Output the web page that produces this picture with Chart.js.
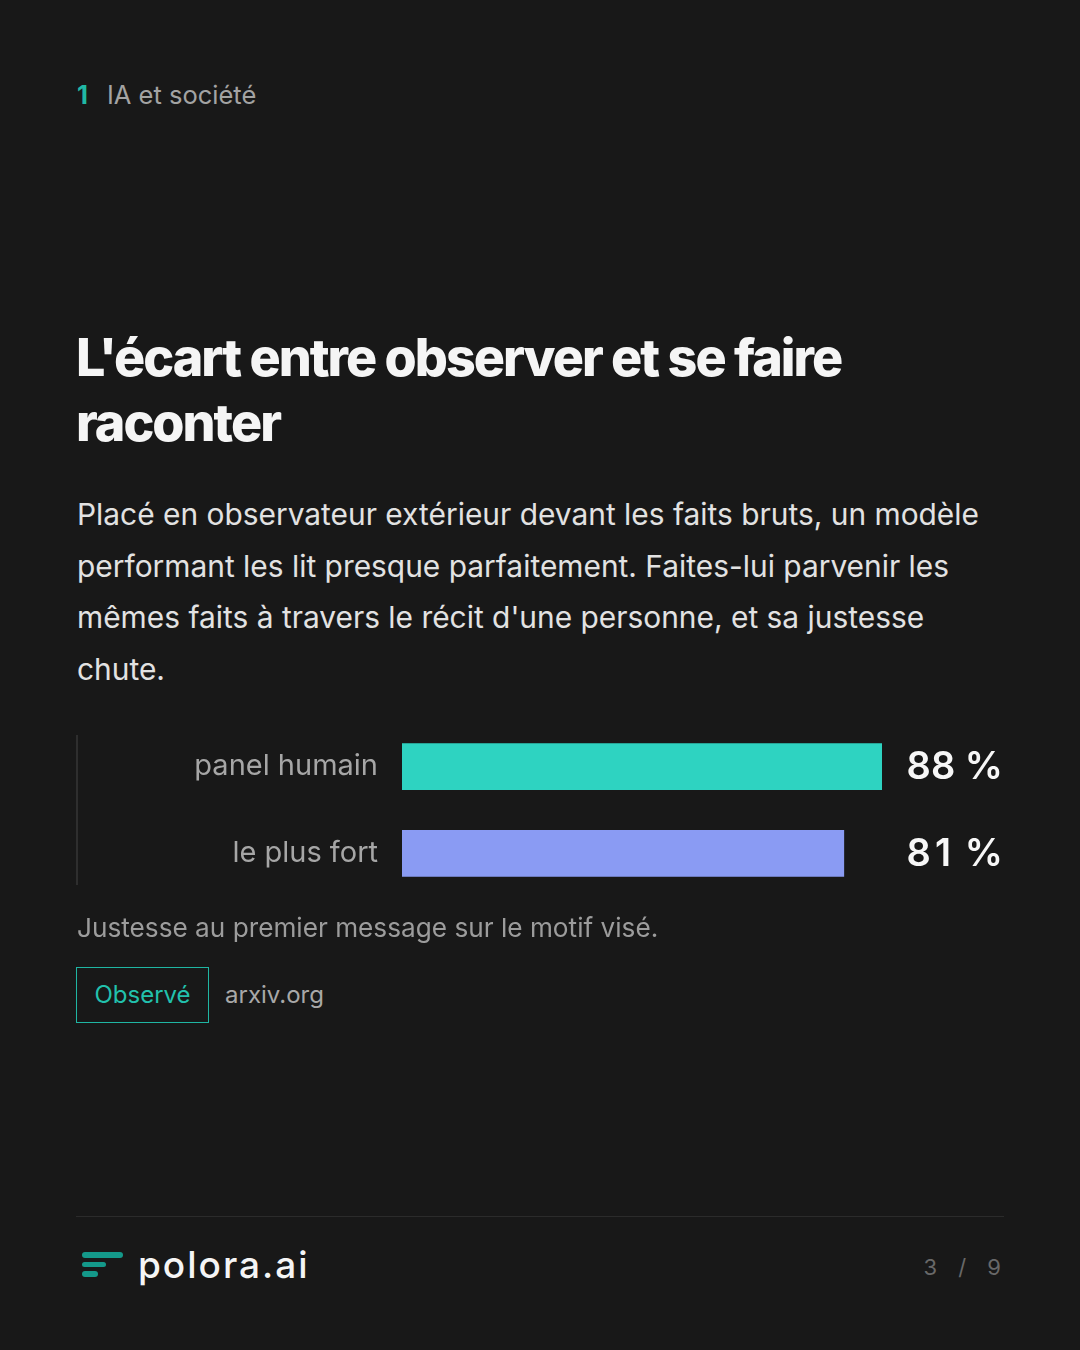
<!DOCTYPE html>
<html lang="fr">
<head>
<meta charset="utf-8">
<title>L'écart entre observer et se faire raconter</title>
<script src="https://cdn.jsdelivr.net/npm/chart.js@4.4.1/dist/chart.umd.min.js"></script>
<style>
  html, body { margin: 0; padding: 0; }
  body { width: 1080px; height: 1350px; background: #181818; position: relative; overflow: hidden; font-family: Inter, "Noto Sans", sans-serif; }
  .abs { position: absolute; }
  .kicker { left: 77px; top: 81px; font-size: 25.5px; line-height: 28px; color: #a3a3a3; }
  .kicker b { color: #20b8a5; font-weight: 700; margin-right: 19px; }
  h1 { position: absolute; left: 76px; top: 325px; width: 940px; margin: 0; font-size: 52px; line-height: 65px; font-weight: 800; letter-spacing: -2px; color: #f5f5f5; }
  .lede { left: 77px; top: 489px; width: 928px; font-size: 29.9px; line-height: 51.5px; color: #e2e2e2; }
  .rule { left: 76px; top: 735px; width: 2px; height: 150px; background: #2e2e2e; }
  .chartbox { left: 78px; top: 682px; width: 926px; height: 256px; }
  .caption { left: 77px; top: 912px; font-size: 26.2px; line-height: 32px; color: #9c9c9c; }
  .badge { left: 76px; top: 967px; width: 131px; height: 54px; border: 1px solid #1fb5a2; color: #22c1ad; font-size: 24px; line-height: 54px; text-align: center; }
  .source { left: 225px; top: 981px; font-size: 24px; line-height: 28px; color: #a8a8a8; }
  .foot { left: 76px; top: 1216px; width: 928px; height: 1px; background: #2b2b2b; }
  .logo span { position: absolute; left: 82px; height: 5.5px; border-radius: 3px; background: #14998a; }
  .brand { left: 138px; top: 1243px; font-size: 37px; line-height: 44px; font-weight: 500; letter-spacing: 2px; color: #f5f5f5; }
  .page { right: 78px; top: 1254px; font-size: 22px; line-height: 26px; color: #686868; letter-spacing: 1px; word-spacing: 13px; }
</style>
</head>
<body>
<div class="abs kicker"><b>1</b>IA et société</div>
<h1>L'écart entre observer et se faire raconter</h1>
<div class="abs lede">Placé en observateur extérieur devant les faits bruts, un modèle performant les lit presque parfaitement. Faites-lui parvenir les mêmes faits à travers le récit d'une personne, et sa justesse chute.</div>

<div class="abs rule"></div>
<div class="abs chartbox"><canvas id="gap"></canvas></div>

<div class="abs caption">Justesse au premier message sur le motif visé.</div>
<div class="abs badge">Observé</div>
<div class="abs source">arxiv.org</div>

<div class="abs foot"></div>
<div class="logo">
  <span style="top:1252px;width:41px"></span>
  <span style="top:1261.5px;width:24px"></span>
  <span style="top:1271px;width:16px"></span>
</div>
<div class="abs brand">polora.ai</div>
<div class="abs page">3 / 9</div>

<script>
// data
const labels = ["panel humain", "le plus fort"];
const accuracy = [88, 81];
const barColors = ["#2ed3c1", "#8a9bf3"];

// value labels right of the bars, digits in fixed-width cells (tabular look)
const valueLabels = {
  id: "valueLabels",
  afterDatasetsDraw(chart) {
    const { ctx } = chart;
    const meta = chart.getDatasetMeta(0);
    ctx.save();
    ctx.font = "600 38px Inter, 'Noto Sans', sans-serif";
    ctx.fillStyle = "#f7f7f7";
    ctx.textBaseline = "middle";
    const cell = ctx.measureText("8").width;
    const pct = " %";
    const pctW = ctx.measureText(pct).width;
    meta.data.forEach((bar, i) => {
      const digits = String(accuracy[i]);
      let x = chart.width - 1 - pctW - cell * digits.length;
      ctx.textAlign = "center";
      for (const d of digits) {
        ctx.fillText(d, x + cell / 2, bar.y + 1);
        x += cell;
      }
      ctx.textAlign = "left";
      ctx.fillText(pct, x, bar.y + 1);
    });
    ctx.restore();
  }
};

const ctx = document.getElementById("gap").getContext("2d");
new Chart(ctx, {
  type: "bar",
  data: {
    labels: labels,
    datasets: [{
      data: accuracy,
      backgroundColor: barColors,
      borderWidth: 0,
      barThickness: 46
    }]
  },
  options: {
    indexAxis: "y",
    responsive: true,
    maintainAspectRatio: false,
    animation: false,
    layout: { padding: { left: 0, right: 122, top: 0, bottom: 0 } },
    plugins: { legend: { display: false }, tooltip: { enabled: false } },
    scales: {
      x: {
        min: 0,
        max: Math.max(...accuracy),
        display: false
      },
      y: {
        grid: { display: false, drawTicks: false },
        border: { display: false },
        ticks: {
          color: "#a6a6a6",
          padding: 24,
          font: { family: "Inter, 'Noto Sans', sans-serif", size: 29 }
        },
        afterFit(scale) { scale.width = 324; }
      }
    }
  },
  plugins: [valueLabels]
});
</script>
</body>
</html>
